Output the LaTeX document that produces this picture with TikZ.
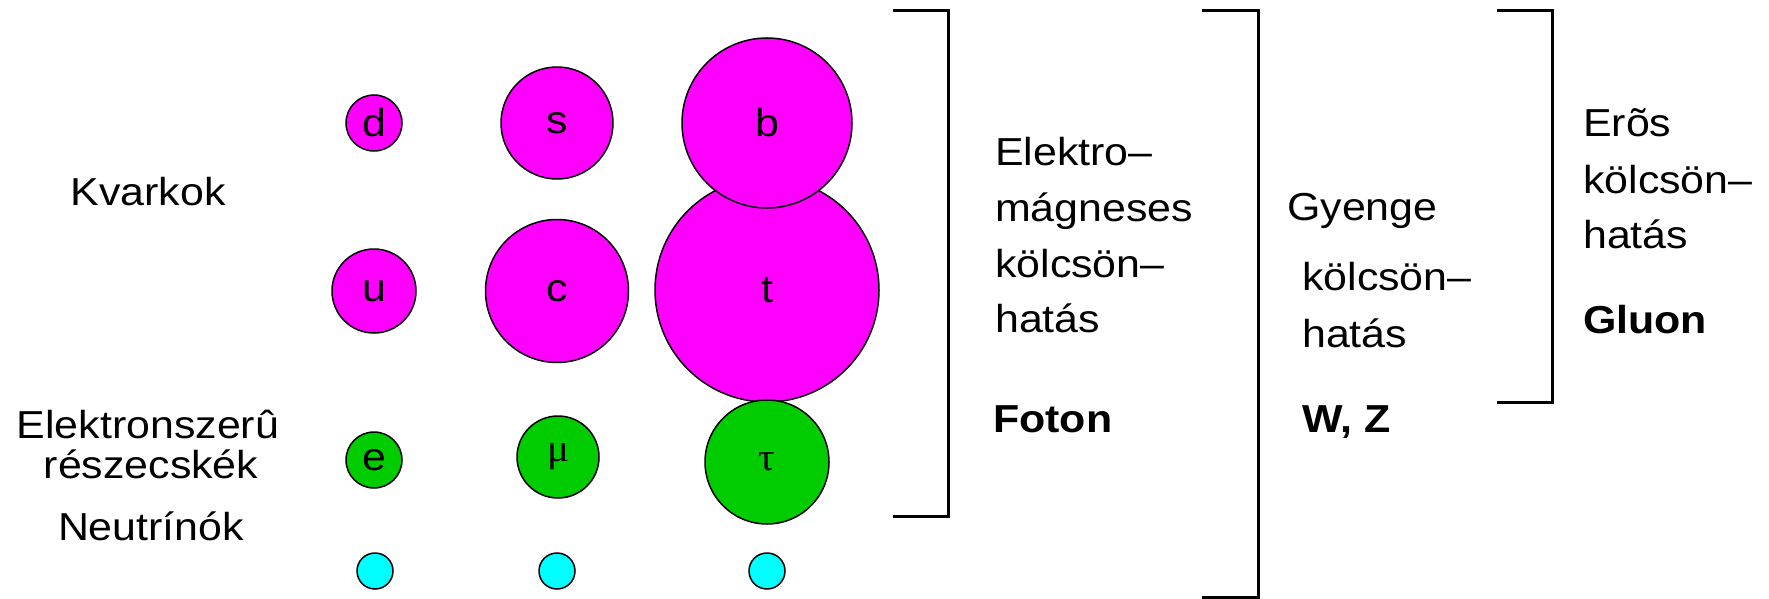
\documentclass[tikz,border=0pt]{standalone}
\usepackage{fontspec}
\setmainfont{Liberation Sans}[FakeStretch=1.1]
\newfontfamily\greekfont{Liberation Serif}[FakeStretch=1.05]
\definecolor{qmag}{RGB}{255,0,255}
\definecolor{lgreen}{RGB}{0,204,0}
\definecolor{ncyan}{RGB}{0,255,255}
\begin{document}
\begin{tikzpicture}[x=1pt,y=-1pt,
  txt/.style={inner sep=0pt,anchor=base west,font=\fontsize{39}{44}\selectfont},
  ctxt/.style={inner sep=0pt,anchor=base,font=\fontsize{39}{44}\selectfont},
  btxt/.style={inner sep=0pt,anchor=base west,font=\fontsize{39}{44}\selectfont\bfseries},
  part/.style={circle,draw=black,line width=1.5pt,inner sep=0pt,font=\fontsize{39}{44}\selectfont},
  quark/.style={part,fill=qmag},
  lepton/.style={part,fill=lgreen},
  nu/.style={part,fill=ncyan,minimum size=36pt},
  greek/.style={font=\fontsize{39}{44}\greekfont},
  bracketline/.style={draw=black,line width=3pt}]
\useasboundingbox (0,0) rectangle (1769,599);
% left labels
\node[ctxt] (kv) at (148,205) {Kvarkok};
\node[ctxt] (el1) at (148,438) {Elektronszerû};
\node[ctxt] (el2) at (151,478) {részecskék};
\node[ctxt] (neu) at (151,540) {Neutrínók};
% quarks
\node[quark,minimum size=224pt] (t) at (767,290) {t};
\node[quark,minimum size=170pt] (b) at (767,123) {b};
\node[quark,minimum size=56pt] (d) at (374,123) {d};
\node[quark,minimum size=112pt] (s) at (557,123) {s};
\node[quark,minimum size=84pt] (u) at (374,291) {u};
\node[quark,minimum size=143pt] (c) at (557,291) {c};
% leptons
\node[lepton,minimum size=56pt] (e) at (374,460) {e};
\node[lepton,greek,minimum size=82pt] (mu) at (558,457) {μ};
\node[lepton,greek,minimum size=124pt] (tau) at (767,462) {τ};
% neutrinos
\node[nu] (nue) at (375,571) {};
\node[nu] (numu) at (557,571) {};
\node[nu] (nutau) at (767,571) {};
% brackets
\coordinate (b1a) at (893,11); \coordinate (b1b) at (948,11);
\coordinate (b1c) at (948,516); \coordinate (b1d) at (893,516);
\draw[bracketline] (b1a) -- (b1b) -- (b1c) -- (b1d);
\coordinate (b2a) at (1202,11); \coordinate (b2b) at (1258,11);
\coordinate (b2c) at (1258,597); \coordinate (b2d) at (1202,597);
\draw[bracketline] (b2a) -- (b2b) -- (b2c) -- (b2d);
\coordinate (b3a) at (1497,11); \coordinate (b3b) at (1552,11);
\coordinate (b3c) at (1552,402); \coordinate (b3d) at (1497,402);
\draw[bracketline] (b3a) -- (b3b) -- (b3c) -- (b3d);
% electromagnetic
\node[txt] (em1) at (995,165) {Elektro–};
\node[txt] (em2) at (995,221) {mágneses};
\node[txt] (em3) at (995,277) {kölcsön–};
\node[txt] (em4) at (995,332) {hatás};
\node[btxt] (em5) at (993,432) {Foton};
% weak
\node[txt] (w1) at (1287,220) {Gyenge};
\node[txt] (w2) at (1302,290) {kölcsön–};
\node[txt] (w3) at (1302,347) {hatás};
\node[btxt] (w4) at (1302,432) {W, Z};
% strong
\node[txt] (s1) at (1583,137) {Erõs};
\node[txt] (s2) at (1583,193) {kölcsön–};
\node[txt] (s3) at (1583,248) {hatás};
\node[btxt] (s4) at (1583,333) {Gluon};
\end{tikzpicture}
\end{document}
